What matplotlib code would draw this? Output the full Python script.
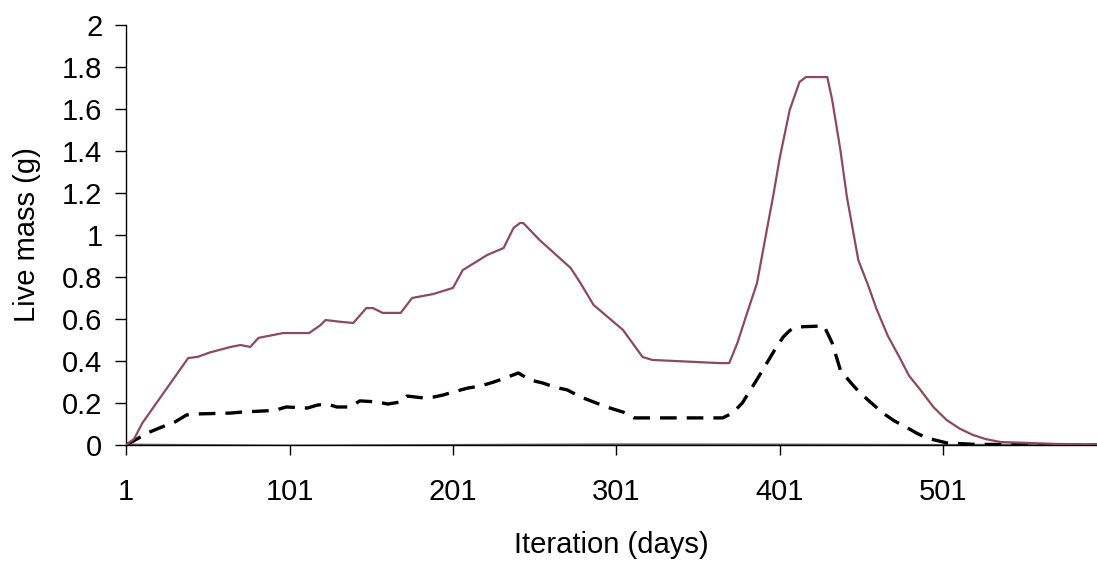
import matplotlib
matplotlib.use("Agg")
import matplotlib.pyplot as plt

plt.rcParams['font.family'] = ['Liberation Sans', 'DejaVu Sans']

# Solid series (upper curve)
days_solid = [1, 6, 11, 39, 45, 52, 65, 71, 77, 82, 97, 113, 120, 123, 133, 140, 148, 152,
              158, 169, 176, 189, 201, 207, 222, 232, 238, 242, 244, 254, 273, 279, 287,
              305, 317, 323, 364, 370, 375, 381, 387, 393, 397, 401, 407, 413, 417, 430,
              433, 438, 442, 449, 455, 460, 467, 474, 480, 487, 495, 503, 511, 519, 527,
              536, 552, 570, 595]
mass_solid = [0, 0.03, 0.105, 0.414, 0.42, 0.44, 0.467, 0.476, 0.467, 0.51, 0.533, 0.533,
              0.571, 0.595, 0.586, 0.581, 0.652, 0.652, 0.629, 0.629, 0.70, 0.719, 0.748,
              0.833, 0.905, 0.938, 1.033, 1.057, 1.057, 0.976, 0.843, 0.771, 0.667, 0.548,
              0.419, 0.405, 0.39, 0.39, 0.486, 0.63, 0.771, 1.024, 1.19, 1.371, 1.595,
              1.729, 1.752, 1.752, 1.643, 1.405, 1.181, 0.88, 0.76, 0.65, 0.52, 0.42,
              0.33, 0.262, 0.18, 0.119, 0.078, 0.048, 0.028, 0.014, 0.01, 0.005, 0.003]

# Dashed series (lower curve)
days_dashed = [1, 8, 14, 23, 31, 38, 45, 65, 72, 85, 92, 99, 112, 118, 124, 130, 138, 144,
               155, 161, 169, 173, 183, 189, 195, 201, 210, 218, 226, 233, 241, 248, 256,
               263, 271, 279, 287, 295, 305, 312, 366, 372, 378, 383, 388, 393, 398, 403,
               407, 411, 428, 433, 438, 444, 450, 457, 464, 471, 478, 485, 491, 503, 520, 595]
mass_dashed = [0, 0.03, 0.057, 0.086, 0.11, 0.143, 0.148, 0.152, 0.157, 0.162, 0.165, 0.181,
               0.176, 0.19, 0.195, 0.181, 0.181, 0.21, 0.205, 0.195, 0.205, 0.233, 0.224,
               0.228, 0.238, 0.252, 0.271, 0.281, 0.3, 0.319, 0.343, 0.31, 0.295, 0.276,
               0.262, 0.229, 0.205, 0.181, 0.157, 0.129, 0.129, 0.152, 0.2, 0.262, 0.325,
               0.39, 0.455, 0.514, 0.545, 0.562, 0.567, 0.486, 0.357, 0.3, 0.248, 0.2,
               0.152, 0.115, 0.086, 0.055, 0.033, 0.01, 0.003, 0.0]

# Near-zero series along the axis
days_zero = [1, 100, 200, 300, 400, 500, 595]
mass_zero = [0.002, -0.003, 0.0, 0.003, 0.002, 0.0, 0.003]

x_ticks = [1, 101, 201, 301, 401, 501]
y_ticks = [0, 0.2, 0.4, 0.6, 0.8, 1.0, 1.2, 1.4, 1.6, 1.8, 2.0]
y_ticklabels = ['0', '0.2', '0.4', '0.6', '0.8', '1', '1.2', '1.4', '1.6', '1.8', '2']

fig = plt.figure(figsize=(10.97, 5.64), dpi=100)
ax = fig.add_axes([0.1149, 0.211, 0.8851, 0.7447])

ax.plot(days_zero, mass_zero, color='#666666', lw=1.5, zorder=2)
ax.plot(days_dashed, mass_dashed, color='black', lw=2.4, dashes=(5, 3), zorder=3)
ax.plot(days_solid, mass_solid, color='#8c4a5c', lw=1.6, zorder=4)

ax.set_xlim(1, 595)
ax.set_ylim(0, 2)
ax.set_xticks(x_ticks)
ax.set_xticklabels([str(t) for t in x_ticks])
ax.set_yticks(y_ticks)
ax.set_yticklabels(y_ticklabels)

for s in ['top', 'right']:
    ax.spines[s].set_visible(False)
for s in ['left', 'bottom']:
    ax.spines[s].set_color('black')
    ax.spines[s].set_linewidth(1.0)

ax.tick_params(axis='x', direction='out', length=7, width=1, pad=17, labelsize=21)
ax.tick_params(axis='y', direction='out', length=8, width=1, pad=9, labelsize=21)

ax.set_xlabel('Iteration (days)', fontsize=21, labelpad=18)
ax.set_ylabel('Live mass (g)', fontsize=21, labelpad=15)

fig.savefig('out.png', dpi=100)
